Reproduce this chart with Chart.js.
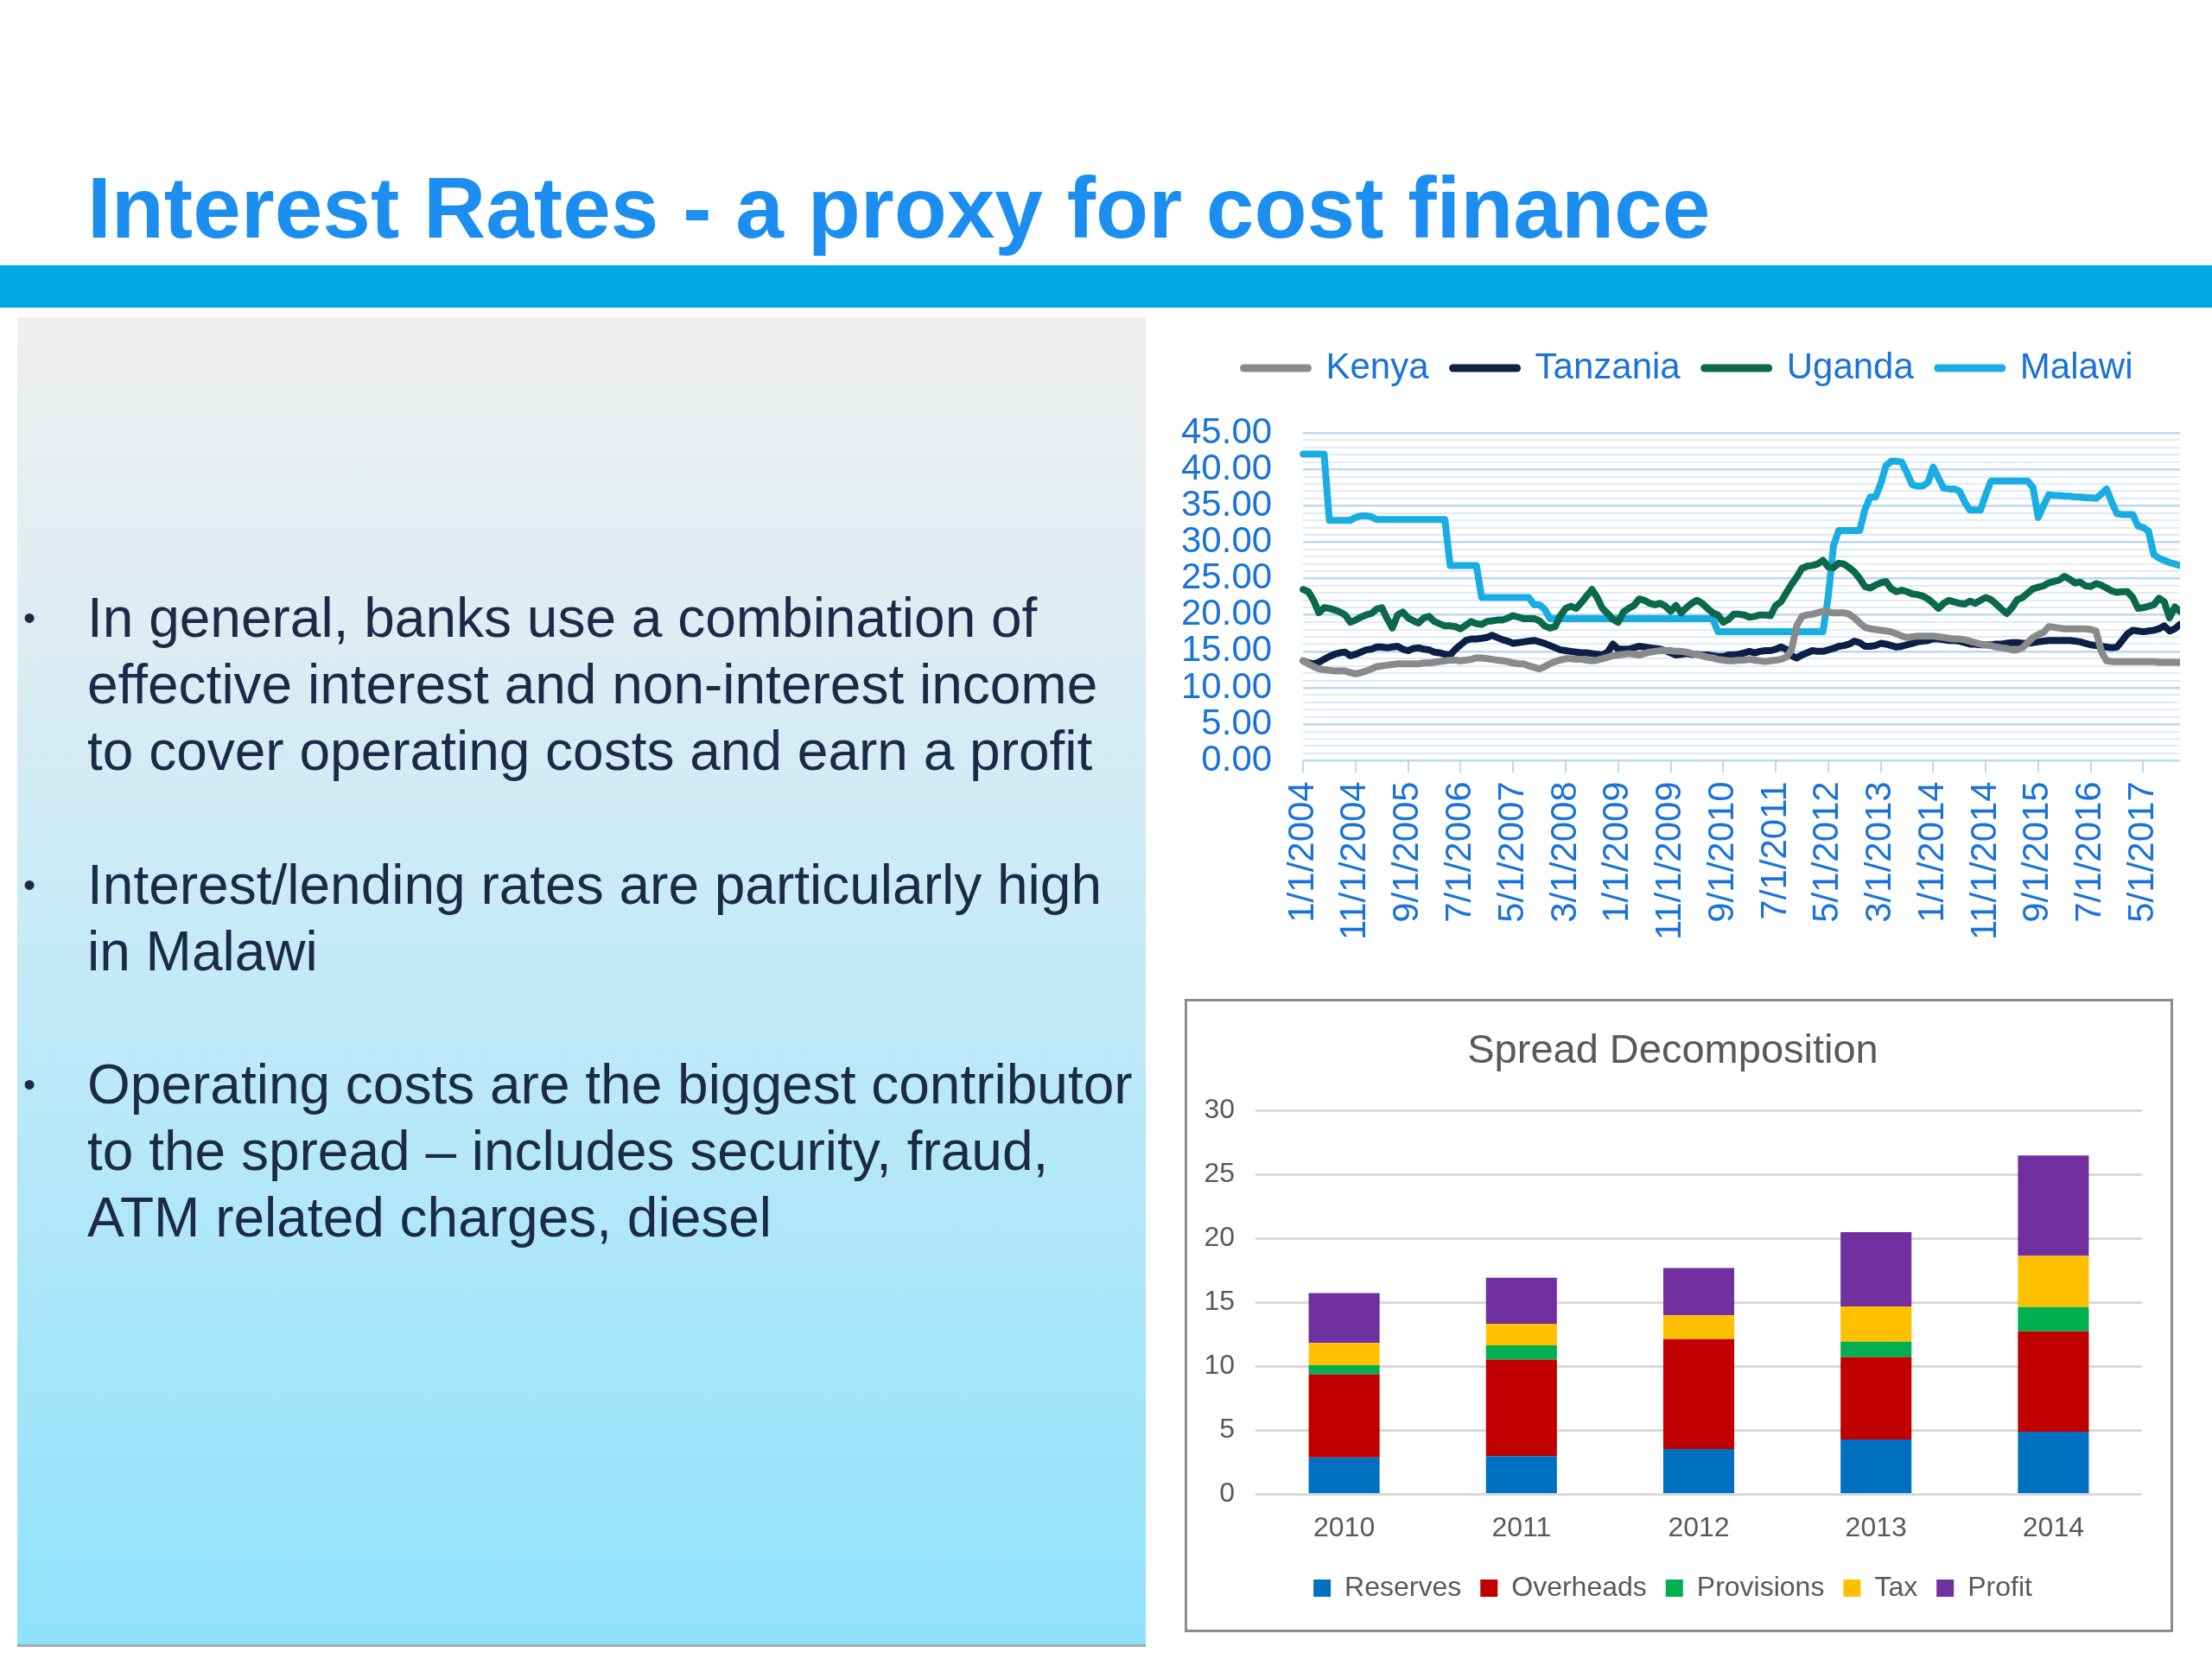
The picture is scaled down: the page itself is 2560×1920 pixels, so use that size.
<!DOCTYPE html>
<html>
<head>
<meta charset="utf-8">
<title>Interest Rates - a proxy for cost finance</title>
<script src="https://cdn.jsdelivr.net/npm/chart.js@4.4.1/dist/chart.umd.min.js"></script>
<style>
  html, body { margin: 0; padding: 0; background: #ffffff; }
  body {
    position: relative;
    width: 2560px;
    height: 1920px;
    overflow: hidden;
    font-family: "Liberation Sans", Arial, sans-serif;
  }
  #title {
    position: absolute;
    left: 101px;
    top: 190px;
    font-size: 100px;
    line-height: 100px;
    font-weight: bold;
    color: #1c8ef0;
    white-space: nowrap;
  }
  #band {
    position: absolute;
    left: 0;
    top: 307px;
    width: 2560px;
    height: 49px;
    background: #00a8e1;
  }
  #panel {
    position: absolute;
    left: 20px;
    top: 367px;
    width: 1306px;
    height: 1536px;
    background: linear-gradient(to bottom, #efefef 0%, #e9eef0 10%, #cdebf6 40%, #ace6f9 72%, #8fe2fb 100%);
    border-bottom: 3px solid #a4abb0;
  }
  .bullet {
    position: absolute;
    left: 101px;
    font-size: 64px;
    line-height: 77px;
    color: #1b2a47;
    white-space: nowrap;
  }
  .dot {
    position: absolute;
    left: -74px;
    top: 0;
    font-size: 40px;
    line-height: 77px;
  }
  #lineWrap {
    position: absolute;
    left: 1331px;
    top: 377px;
    width: 1192px;
    height: 721px;
  }
  #barBox {
    position: absolute;
    left: 1371px;
    top: 1156px;
    width: 1138px;
    height: 727px;
    border: 3px solid #8c8c8c;
    background: #ffffff;
  }
</style>
</head>
<body>
<div id="title">Interest Rates - a proxy for cost finance</div>
<div id="band"></div>
<div id="panel"></div>

<div class="bullet" style="top:677px"><span class="dot">•</span>In general, banks use a combination of<br>effective interest and non-interest income<br>to cover operating costs and earn a profit</div>
<div class="bullet" style="top:986px"><span class="dot">•</span>Interest/lending rates are particularly high<br>in Malawi</div>
<div class="bullet" style="top:1217px"><span class="dot">•</span>Operating costs are the biggest contributor<br>to the spread – includes security, fraud,<br>ATM related charges, diesel</div>

<div id="lineWrap"><canvas id="rateChart"></canvas></div>
<div id="barBox"><canvas id="spreadChart"></canvas></div>

<script>
"use strict";

// Monthly lending rates, Jan 2004 - Dec 2017
const kenya = [
  13.7, 13.3, 12.9, 12.6, 12.5, 12.4, 12.3, 12.3, 12.3, 12.1, 11.9, 12.1,
  12.3, 12.6, 12.9, 13.0, 13.1, 13.2, 13.3, 13.3, 13.3, 13.3, 13.3, 13.4,
  13.4, 13.5, 13.6, 13.7, 13.8, 13.8, 13.7, 13.8, 13.9, 14.1, 14.1, 14.0,
  13.9, 13.8, 13.7, 13.6, 13.4, 13.3, 13.3, 13.0, 12.8, 12.6, 12.9, 13.3,
  13.6, 13.8, 14.0, 14.0, 13.9, 13.9, 13.8, 13.7, 13.8, 14.0, 14.2, 14.4,
  14.5, 14.6, 14.7, 14.6, 14.5, 14.7, 14.9, 15.0, 15.1, 15.1, 15.1, 15.0,
  15.0, 14.9, 14.7, 14.6, 14.4, 14.2, 14.1, 13.9, 13.8, 13.7, 13.7, 13.8,
  13.8, 13.9, 13.8, 13.7, 13.6, 13.7, 13.8, 13.9, 14.2, 15.2, 18.5, 19.8,
  20.0, 20.1, 20.3, 20.5, 20.4, 20.3, 20.3, 20.3, 20.1, 19.6, 18.9, 18.3,
  18.1, 18.0, 17.9, 17.8, 17.7, 17.4, 17.1, 16.9, 17.0, 17.1, 17.1, 17.1,
  17.1, 17.0, 16.9, 16.8, 16.7, 16.7, 16.6, 16.4, 16.2, 16.0, 15.9, 15.8,
  15.6, 15.5, 15.4, 15.2, 15.2, 15.5, 16.2, 16.9, 17.3, 17.6, 18.4, 18.3,
  18.2, 18.1, 18.1, 18.1, 18.1, 18.1, 18.0, 17.8, 15.0, 13.7, 13.6, 13.6,
  13.6, 13.6, 13.6, 13.6, 13.6, 13.6, 13.6, 13.5, 13.5, 13.5, 13.5, 13.5,
];

const tanzania = [
  13.7, 13.4, 13.3, 13.5, 13.9, 14.3, 14.6, 14.8, 14.9, 14.4, 14.6, 14.9,
  15.2, 15.3, 15.6, 15.6, 15.5, 15.6, 15.7, 15.3, 15.1, 15.4, 15.5, 15.3,
  15.2, 14.9, 14.8, 14.6, 14.5, 15.3, 15.9, 16.5, 16.7, 16.7, 16.8, 16.9,
  17.2, 16.9, 16.6, 16.4, 16.1, 16.2, 16.3, 16.4, 16.5, 16.3, 16.1, 15.8,
  15.5, 15.2, 15.1, 15.0, 14.9, 14.8, 14.8, 14.7, 14.6, 14.5, 14.9, 16.0,
  15.3, 15.3, 15.3, 15.5, 15.7, 15.6, 15.5, 15.4, 15.3, 15.1, 14.8, 14.5,
  14.6, 14.7, 14.6, 14.6, 14.5, 14.5, 14.4, 14.3, 14.3, 14.5, 14.5, 14.6,
  14.8, 15.0, 14.8, 15.0, 15.1, 15.1, 15.3, 15.6, 15.3, 14.4, 14.1, 14.5,
  14.8, 15.1, 15.0, 15.0, 15.2, 15.4, 15.7, 15.8, 16.0, 16.4, 16.2, 15.7,
  15.7, 15.8, 16.1, 16.0, 15.8, 15.6, 15.7, 15.9, 16.1, 16.3, 16.4, 16.5,
  16.7, 16.7, 16.6, 16.5, 16.5, 16.4, 16.2, 16.0, 16.0, 15.9, 15.9, 15.9,
  16.0, 16.0, 16.1, 16.2, 16.2, 16.1, 16.1, 16.2, 16.3, 16.4, 16.5, 16.5,
  16.5, 16.5, 16.5, 16.4, 16.3, 16.1, 15.9, 15.8, 15.7, 15.6, 15.5, 15.6,
  16.5, 17.4, 17.9, 17.8, 17.7, 17.8, 17.9, 18.1, 18.5, 17.8, 18.1, 18.7,
];

const uganda = [
  23.5, 23.2, 22.0, 20.3, 21.0, 20.9, 20.7, 20.4, 20.0, 19.0, 19.3, 19.7,
  20.0, 20.2, 20.8, 21.0, 19.5, 18.2, 20.0, 20.4, 19.6, 19.2, 18.9, 19.6,
  19.8, 19.1, 18.8, 18.5, 18.5, 18.4, 18.1, 18.6, 19.1, 18.8, 18.7, 19.1,
  19.2, 19.3, 19.3, 19.6, 19.9, 19.7, 19.5, 19.5, 19.5, 19.2, 18.5, 18.2,
  18.4, 19.9, 20.9, 21.2, 20.9, 21.7, 22.6, 23.5, 22.4, 20.9, 20.2, 19.4,
  19.0, 20.4, 20.9, 21.3, 22.2, 22.0, 21.6, 21.4, 21.6, 21.2, 20.5, 21.3,
  20.3, 21.0, 21.6, 22.0, 21.6, 20.9, 20.3, 20.0, 19.0, 19.4, 20.1, 20.1,
  20.0, 19.7, 19.8, 20.0, 20.0, 19.9, 21.3, 21.8, 23.0, 24.2, 25.2, 26.4,
  26.7, 26.8, 27.0, 27.5, 26.6, 26.5, 27.1, 27.0, 26.5, 25.9, 25.0, 23.9,
  23.7, 24.1, 24.4, 24.6, 23.6, 23.2, 23.4, 23.2, 22.9, 22.8, 22.6, 22.2,
  21.6, 20.9, 21.6, 22.0, 21.8, 21.6, 21.5, 21.9, 21.6, 22.0, 22.4, 22.1,
  21.5, 20.8, 20.2, 21.0, 22.1, 22.4, 23.0, 23.6, 23.8, 24.0, 24.4, 24.6,
  24.8, 25.3, 24.9, 24.4, 24.5, 24.0, 23.9, 24.3, 24.1, 23.7, 23.3, 23.1,
  23.2, 23.2, 22.4, 20.9, 21.0, 21.2, 21.4, 22.3, 21.8, 19.6, 21.1, 20.5,
];

const malawi = [
  42.1, 42.1, 42.1, 42.1, 42.1, 33.0, 33.0, 33.0, 33.0, 33.0, 33.4, 33.6,
  33.6, 33.5, 33.1, 33.1, 33.1, 33.1, 33.1, 33.1, 33.1, 33.1, 33.1, 33.1,
  33.1, 33.1, 33.1, 33.1, 26.8, 26.8, 26.8, 26.8, 26.8, 26.8, 22.4, 22.4,
  22.4, 22.4, 22.4, 22.4, 22.4, 22.4, 22.4, 22.4, 21.4, 21.4, 20.8, 19.5,
  19.5, 19.5, 19.5, 19.5, 19.5, 19.5, 19.5, 19.5, 19.5, 19.5, 19.5, 19.5,
  19.5, 19.5, 19.5, 19.5, 19.5, 19.5, 19.5, 19.5, 19.5, 19.5, 19.5, 19.5,
  19.5, 19.5, 19.5, 19.5, 19.5, 19.5, 19.5, 17.7, 17.7, 17.7, 17.7, 17.7,
  17.7, 17.7, 17.7, 17.7, 17.7, 17.7, 17.7, 17.7, 17.7, 17.7, 17.7, 17.7,
  17.7, 17.7, 17.7, 17.7, 22.5, 29.5, 31.6, 31.6, 31.6, 31.6, 31.6, 34.5,
  36.2, 36.2, 38.0, 40.5, 41.1, 41.1, 41.0, 39.5, 37.9, 37.7, 37.7, 38.2,
  40.3, 38.8, 37.4, 37.3, 37.3, 37.0, 35.5, 34.4, 34.4, 34.4, 36.5, 38.4,
  38.4, 38.4, 38.4, 38.4, 38.4, 38.4, 38.4, 37.5, 33.4, 35.0, 36.5, 36.4,
  36.4, 36.3, 36.3, 36.2, 36.2, 36.1, 36.1, 36.0, 36.6, 37.3, 35.5, 33.9,
  33.8, 33.8, 33.8, 32.2, 32.0, 31.5, 28.3, 27.8, 27.5, 27.2, 27.0, 26.8,
];

const countries = ["Kenya", "Tanzania", "Uganda", "Malawi"];
const countryColors = ["#8a8a8a", "#0b1f47", "#0b6848", "#19ade2"];

// month labels m/1/yyyy starting Jan 2004
const firstYear = 2004;
const monthLabels = kenya.map((_, i) => `${(i % 12) + 1}/1/${firstYear + Math.floor(i / 12)}`);
const labelEvery = 10;

// Spread decomposition
const years = ["2010", "2011", "2012", "2013", "2014"];
const reserves = [2.9, 3.0, 3.55, 4.3, 4.9];
const overheads = [6.5, 7.55, 8.6, 6.45, 7.85];
const provisions = [0.7, 1.1, 0, 1.2, 1.9];
const tax = [1.75, 1.7, 1.85, 2.75, 4.0];
const profit = [3.9, 3.6, 3.7, 5.8, 7.85];

const spreadSeries = ["Reserves", "Overheads", "Provisions", "Tax", "Profit"];
const spreadColors = ["#0070c0", "#c00000", "#00b050", "#ffc000", "#7030a0"];

Chart.defaults.font.family = '"Liberation Sans", Arial, sans-serif';
Chart.defaults.animation = false;

const blueText = "#1a73d8";

// extra room under the legend, and nudge it right to sit over the plot
const legendSpacing = {
  id: "legendSpacing",
  beforeInit(chart) {
    const originalFit = chart.legend.fit;
    chart.legend.fit = function fit() {
      originalFit.bind(chart.legend)();
      this.height += 44;
    };
  },
  afterLayout(chart) {
    chart.legend.left += 27;
    chart.legend.right += 27;
  },
};

// x axes should not push the plot in from the sides
const noSidePadding = (scale) => {
  scale.paddingLeft = 0;
  scale.paddingRight = 0;
};

// Interest rate lines
const rateSeries = [kenya, tanzania, uganda, malawi];

new Chart(document.getElementById("rateChart").getContext("2d"), {
  type: "line",
  data: {
    labels: monthLabels,
    datasets: rateSeries.map((values, i) => ({
      label: countries[i],
      data: values,
      borderColor: countryColors[i],
      backgroundColor: countryColors[i],
      borderWidth: 8,
      borderCapStyle: "round",
      borderJoinStyle: "round",
      pointRadius: 0,
      pointStyle: "line",
      tension: 0,
    })),
  },
  plugins: [legendSpacing],
  options: {
    responsive: true,
    maintainAspectRatio: false,
    devicePixelRatio: 1,
    layout: { padding: 0 },
    plugins: {
      legend: {
        position: "top",
        labels: {
          usePointStyle: true,
          pointStyleWidth: 74,
          boxHeight: 42,
          padding: 28,
          color: blueText,
          font: { size: 42 },
          generateLabels: (chart) =>
            Chart.defaults.plugins.legend.labels.generateLabels(chart).map((item) => ({
              ...item,
              lineWidth: 9,
              lineCap: "round",
            })),
        },
      },
      tooltip: { enabled: false },
    },
    scales: {
      x: {
        afterFit: noSidePadding,
        grid: {
          drawOnChartArea: false,
          drawTicks: true,
          tickLength: 14,
          lineWidth: 2,
          color: (ctx) => (ctx.index % labelEvery === 0 ? "#bcd8f4" : "rgba(0,0,0,0)"),
        },
        border: { display: false },
        ticks: {
          autoSkip: false,
          minRotation: 90,
          maxRotation: 90,
          padding: 10,
          color: blueText,
          font: { size: 42 },
          callback: function (value, index) {
            return index % labelEvery === 0 ? this.getLabelForValue(value) : "";
          },
        },
      },
      y: {
        min: 0,
        max: 45,
        grid: {
          drawTicks: false,
          lineWidth: (ctx) => (ctx.tick && ctx.tick.value % 5 === 0 ? 2.5 : 2),
          color: (ctx) => (ctx.tick && ctx.tick.value % 5 === 0 ? "#bcd8f4" : "#e0ebf8"),
        },
        border: { display: false },
        ticks: {
          stepSize: 1,
          autoSkip: false,
          padding: 36,
          color: blueText,
          font: { size: 42 },
          callback: (value) => (value % 5 === 0 ? value.toFixed(2) : ""),
        },
      },
    },
  },
});

// Spread decomposition stacked bars
const spreadValues = [reserves, overheads, provisions, tax, profit];

new Chart(document.getElementById("spreadChart").getContext("2d"), {
  type: "bar",
  data: {
    labels: years,
    datasets: spreadValues.map((values, i) => ({
      label: spreadSeries[i],
      data: values,
      backgroundColor: spreadColors[i],
      borderWidth: 0,
      barPercentage: 0.4,
      categoryPercentage: 1,
    })),
  },
  options: {
    responsive: true,
    maintainAspectRatio: false,
    devicePixelRatio: 1,
    layout: { padding: { left: 19, right: 33, top: 0, bottom: 22 } },
    plugins: {
      title: {
        display: true,
        text: "Spread Decomposition",
        color: "#595959",
        font: { size: 47, weight: "normal" },
        padding: { top: 30, bottom: 40 },
      },
      legend: {
        position: "bottom",
        labels: {
          boxWidth: 20,
          boxHeight: 20,
          padding: 22,
          color: "#595959",
          font: { size: 32 },
        },
      },
      tooltip: { enabled: false },
    },
    scales: {
      x: {
        stacked: true,
        afterFit: noSidePadding,
        grid: { display: false },
        border: { display: false },
        ticks: { color: "#595959", font: { size: 32 }, padding: 12 },
      },
      y: {
        stacked: true,
        min: 0,
        max: 30,
        afterFit: (scale) => {
          scale.width = 60;
        },
        grid: { drawTicks: false, color: "#d9d9d9", lineWidth: 3 },
        border: { display: false },
        ticks: { stepSize: 5, color: "#595959", font: { size: 32 }, padding: 24 },
      },
    },
  },
});
</script>
</body>
</html>
